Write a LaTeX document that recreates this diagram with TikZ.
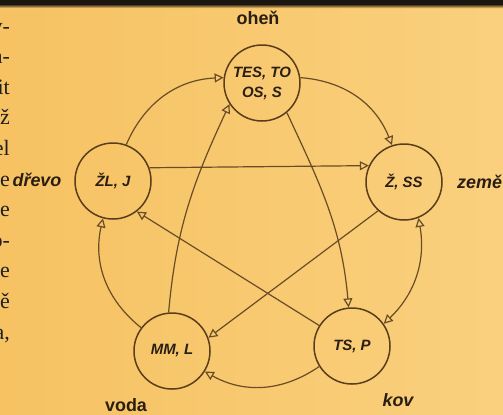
\documentclass[tikz,border=0pt]{standalone}
\usepackage{fontspec}
\setmainfont{Liberation Sans}
\newfontfamily\serfont{Liberation Serif}
\usetikzlibrary{arrows.meta}
\definecolor{bgA}{HTML}{F6C262}
\definecolor{bgB}{HTML}{FAD07E}
\definecolor{ink}{HTML}{2A1E12}
\definecolor{wire}{HTML}{6A4C26}
\definecolor{rim}{HTML}{5A3E1C}
\definecolor{band}{HTML}{1C1610}
\begin{document}
\begin{tikzpicture}[x=1bp,y=1bp,
  elem/.style={circle,draw=rim,line width=1.5bp,minimum size=76bp,inner sep=0pt,
    font=\fontsize{15}{20}\selectfont\bfseries\itshape,text=ink,align=center},
  lbl/.style={font=\fontsize{18}{20}\selectfont\bfseries,text=ink,inner sep=0pt},
  lbli/.style={font=\fontsize{18}{20}\selectfont\bfseries\itshape,text=ink,inner sep=0pt},
  frag/.style={font=\serfont\fontsize{22}{24}\selectfont,text=black!88,anchor=base east,inner sep=0pt},
  link/.style={draw=wire,line width=1.2bp,-{Triangle[open,length=9bp,width=9bp]}},
  both/.style={draw=wire,line width=1.2bp,{Triangle[open,length=9bp,width=9bp]}-{Triangle[open,length=9bp,width=9bp]}},
]
\useasboundingbox (0,0) rectangle (503,-414);
\shade[left color=bgA,right color=bgB] (0,0) rectangle (503,-414);
\fill[band] (0,0) rectangle (503,-4);
\shade[top color=band,bottom color=bgA!80!bgB] (0,-4) rectangle (503,-8);

% left text fragments
\node[frag] (t1) at (10,-33) {v-};
\node[frag] (t2) at (10,-63.6) {a-};
\node[frag] (t3) at (10,-94.2) {it};
\node[frag] (t4) at (10,-124.8) {ž};
\node[frag] (t5) at (10,-155.4) {el};
\node[frag] (t6) at (10,-186) {e};
\node[frag] (t7) at (10,-216.6) {e};
\node[frag] (t8) at (10,-247.2) {o-};
\node[frag] (t9) at (10,-277.8) {e};
\node[frag] (t10) at (10,-308.4) {ě};
\node[frag] (t11) at (10,-339) {a,};

% elements
\node[elem] (F) at (262,-83) {TES, TO\\OS, S};
\node[elem] (E) at (404,-182) {Ž, SS};
\node[elem] (M) at (352,-346) {TS, P};
\node[elem] (W) at (172,-351) {MM, L};
\node[elem] (D) at (113,-181) {ŽL, J};

% labels
\node[lbl] (lF) at (258,-18) {oheň};
\node[lbli] (lD) at (37,-180) {dřevo};
\node[lbli,anchor=west] (lE) at (457,-182) {země};
\node[lbl] (lW) at (126,-405) {voda};
\node[lbli] (lM) at (398,-400) {kov};

% outer cycle
\draw[link] (D.70) to[bend left=32] (F.172);
\draw[link] (F.8) to[bend left=32] (E.108);
\draw[both] (E.-68) to[bend left=28] (M.35);
\draw[link] (M.212) to[bend left=32] (W.-32);
\draw[link] (W.143) to[bend left=32] (D.-105);

% inner star
\draw[link] (D.20) -- (E.155);
\draw[link] (E.228) -- (W.20);
\draw[link] (M.148) -- (D.-52);
\draw[link] (W.95) to[out=85,in=245] (F.213);
\draw[link] (F.-50) to[out=-65,in=95] (M.95);
\end{tikzpicture}
\end{document}
